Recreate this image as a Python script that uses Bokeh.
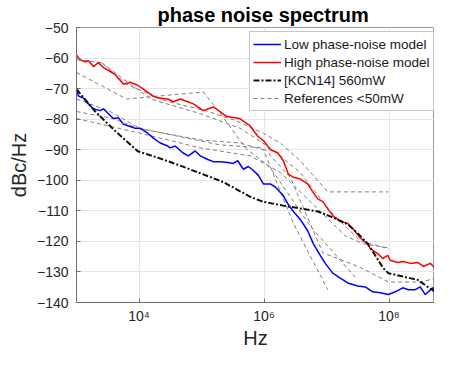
import numpy as np
from bokeh.plotting import figure
from bokeh.models import Range1d, FixedTicker, Legend, LegendItem
from bokeh.embed import file_html
from bokeh.resources import INLINE

# frequencies given as log10(Hz); levels in dBc/Hz
low_log_hz = [3.00, 3.03, 3.11, 3.19, 3.27, 3.38, 3.43, 3.51, 3.59, 3.67, 3.75, 3.86, 3.94, 4.02, 4.14,
              4.23, 4.34, 4.46, 4.50, 4.58, 4.70, 4.79, 4.90, 4.98, 5.10, 5.19, 5.30, 5.42, 5.51, 5.58,
              5.67, 5.75, 5.83, 5.91, 5.99, 6.10, 6.18, 6.30, 6.39, 6.47, 6.58, 6.70, 6.79, 6.90, 6.98,
              7.10, 7.22, 7.34, 7.50, 7.62, 7.74, 7.86, 7.99, 8.10, 8.22, 8.31, 8.42, 8.50, 8.58, 8.70,
              8.79, 8.90, 8.98]
low_db = [-70.2, -72.4, -73.1, -75.0, -76.6, -77.2, -76.6, -78.2, -79.8, -79.5, -81.7, -82.4, -83.0, -83.0, -84.6,
          -86.2, -87.8, -88.8, -89.4, -88.8, -91.0, -92.0, -90.4, -92.0, -93.2, -93.9, -93.9, -94.2, -94.5, -93.6,
          -96.4, -95.5, -96.8, -98.4, -101.2, -101.2, -102.2, -104.8, -108.0, -110.2, -112.8, -116.6, -120.8, -124.6, -127.2,
          -130.4, -132.0, -133.6, -134.6, -134.9, -136.5, -136.8, -137.4, -136.5, -135.2, -135.8, -135.8, -134.9, -137.4, -135.2,
          -136.2, -136.5, -137.1]

high_log_hz = [3.00, 3.06, 3.14, 3.19, 3.27, 3.35, 3.43, 3.54, 3.62, 3.75, 3.86, 3.98, 4.07, 4.22, 4.31,
               4.46, 4.55, 4.66, 4.78, 4.87, 5.03, 5.19, 5.40, 5.61, 5.77, 5.90, 6.00, 6.10, 6.22, 6.31,
               6.39, 6.47, 6.58, 6.70, 6.78, 6.86, 6.94, 7.03, 7.11, 7.22, 7.34, 7.43, 7.54, 7.66, 7.70,
               7.82, 7.90, 7.98, 8.02, 8.14, 8.23, 8.34, 8.46, 8.55, 8.66, 8.74, 8.86, 8.94, 8.98]
high_db = [-59.0, -60.6, -61.2, -60.9, -62.8, -61.5, -63.1, -64.4, -65.4, -68.6, -67.9, -68.9, -70.2, -72.4, -73.1,
           -73.4, -74.3, -73.4, -74.3, -75.0, -77.2, -76.0, -79.1, -79.8, -82.0, -85.6, -87.2, -90.0, -91.0, -93.6,
           -98.0, -99.0, -99.6, -101.2, -103.8, -106.1, -107.0, -109.6, -111.8, -113.4, -114.1, -116.0, -118.9, -120.8, -122.4,
           -124.0, -125.6, -124.6, -126.2, -126.9, -126.6, -127.2, -126.9, -128.2, -127.2, -128.8, -127.2, -126.9, -127.8]

kcn_log_hz = [3.00, 3.30, 3.60, 3.98, 4.30, 4.66, 4.98, 5.35, 5.78, 5.98, 6.31, 6.86, 7.06, 7.34, 7.51,
              7.66, 7.91, 7.99, 8.46, 8.62, 8.98]
kcn_db = [-70.2, -77.5, -83.5, -90.5, -92.6, -95.2, -97.7, -100.6, -105.4, -107.0, -108.3, -110.2, -111.8, -114.4, -117.6,
          -120.8, -128.8, -130.4, -132.6, -134.9, -139.7]

ref1_log_hz = [3.00, 3.40, 3.80, 4.42, 5.06, 5.54, 5.99, 6.26, 6.58, 7.02, 7.99]
ref1_db = [-60.6, -61.5, -68.6, -74.0, -77.2, -80.4, -84.6, -87.8, -93.6, -103.8, -103.8]
ref2_log_hz = [3.00, 3.80, 5.03, 5.34, 5.70, 6.10, 6.74, 7.46]
ref2_db = [-64.7, -73.4, -71.1, -79.1, -89.4, -95.8, -115.0, -131.7]
ref3_log_hz = [3.00, 3.59, 3.98, 4.98, 5.62, 5.99, 6.47, 7.02]
ref3_db = [-77.5, -79.8, -83.0, -86.8, -87.8, -90.0, -114.1, -135.8]
ref4_log_hz = [3.00, 4.02, 4.98, 5.78, 6.26, 6.90, 7.30, 7.59, 7.99]
ref4_db = [-79.8, -84.6, -89.4, -92.0, -97.4, -110.2, -118.2, -120.8, -122.1]
ref5_log_hz = [3.00, 3.54, 4.01, 5.29, 5.99, 6.42, 6.94, 7.54, 7.99, 8.50, 8.98]
ref5_db = [-73.4, -77.5, -83.0, -88.4, -89.4, -99.0, -123.7, -128.5, -133.3, -133.3, -131.0]
ref6_log_hz = [3.40, 4.18, 4.98, 5.62, 6.10, 6.58, 7.06, 7.54, 7.99]
ref6_db = [-61.5, -73.4, -78.2, -83.0, -89.4, -97.4, -110.2, -119.8, -122.4]

x_ticks = [10000, 1000000, 100000000]
x_tick_labels = ["10\u2074", "10\u2076", "10\u2078"]
y_ticks = [-140, -130, -120, -110, -100, -90, -80, -70, -60, -50]

title_text = "phase noise spectrum"
x_label = "Hz"
y_label = "dBc/Hz"
legend_labels = ["Low phase-noise model", "High phase-noise model", "[KCN14] 560mW", "References <50mW"]

FONT = "Liberation Sans"
TXT = "#262626"

W, H = 434, 351
ML, MT, MB = 76, 27, 45
FRAME_W = W - ML
DECADE_PX = 62.5

p = figure(width=W, height=H, x_axis_type="log",
           x_range=Range1d(1e3, 10 ** (3 + FRAME_W / DECADE_PX)), y_range=Range1d(-140, -50),
           output_backend="svg", toolbar_location=None,
           min_border_left=ML, min_border_right=0, min_border_top=MT, min_border_bottom=MB)

p.title.text = title_text
p.title.text_font = FONT
p.title.text_font_size = "20px"
p.title.text_font_style = "bold"
p.title.text_color = "#000000"
p.title.align = "left"
p.title.offset = 81
p.title.standoff = 3

p.background_fill_color = "white"
p.border_fill_color = "white"
p.outline_line_color = "#9a9a9a"
p.outline_line_width = 1

p.xaxis.ticker = FixedTicker(ticks=x_ticks, minor_ticks=[])
p.xaxis.major_label_overrides = {t: l for t, l in zip(x_ticks, x_tick_labels)}
p.yaxis.ticker = FixedTicker(ticks=y_ticks, minor_ticks=[])

for ax in (p.xaxis, p.yaxis):
    ax.axis_line_color = "#6e6e6e"
    ax.major_tick_line_color = "#6e6e6e"
    ax.major_tick_in = 4
    ax.major_tick_out = 0
    ax.minor_tick_line_color = None
    ax.major_label_text_font = FONT
    ax.major_label_text_font_size = "14px"
    ax.major_label_text_color = TXT
    ax.axis_label_text_font = FONT
    ax.axis_label_text_font_size = "20px"
    ax.axis_label_text_font_style = "normal"
    ax.axis_label_text_color = TXT

p.xaxis.axis_label = x_label
p.yaxis.axis_label = y_label
p.xaxis.major_label_standoff = 5
p.yaxis.major_label_standoff = 8
p.xaxis.axis_label_standoff = 0
p.yaxis.axis_label_standoff = 4

p.xgrid.grid_line_color = "#e6e6e6"
p.ygrid.grid_line_color = "#e6e6e6"
p.xgrid.grid_line_width = 1
p.ygrid.grid_line_width = 1

refs = [(ref1_log_hz, ref1_db), (ref2_log_hz, ref2_db), (ref3_log_hz, ref3_db),
        (ref4_log_hz, ref4_db), (ref5_log_hz, ref5_db), (ref6_log_hz, ref6_db)]
ref_renderers = []
for lx, ly in refs:
    r = p.line(10 ** np.array(lx), ly, line_color="#7f7f7f", line_width=1, line_dash="4 3")
    ref_renderers.append(r)

r_low = p.line(10 ** np.array(low_log_hz), low_db, line_color="#0000ff", line_width=1.5)
r_high = p.line(10 ** np.array(high_log_hz), high_db, line_color="#ff0000", line_width=1.5)
r_kcn = p.line(10 ** np.array(kcn_log_hz), kcn_db, line_color="#111111", line_width=2,
               line_dash="6 2 2 2")

# legend position in screen pixels from the frame's lower-left corner
LEG_X, LEG_Y = 173, 191
legend = Legend(items=[
    LegendItem(label=legend_labels[0], renderers=[r_low]),
    LegendItem(label=legend_labels[1], renderers=[r_high]),
    LegendItem(label=legend_labels[2], renderers=[r_kcn]),
    LegendItem(label=legend_labels[3], renderers=[ref_renderers[0]]),
], location=(LEG_X, LEG_Y))
legend.margin = 0
legend.padding = 3
legend.spacing = 0
legend.glyph_width = 28
legend.glyph_height = 18
legend.label_height = 18
legend.label_standoff = 3
legend.label_text_font = FONT
legend.label_text_font_size = "13.5px"
legend.label_text_color = "#1a1a1a"
legend.border_line_color = "#8c8c8c"
legend.border_line_width = 1
legend.background_fill_color = "white"
legend.background_fill_alpha = 1
p.add_layout(legend)

open("out.html", "w").write(file_html(p, INLINE))
